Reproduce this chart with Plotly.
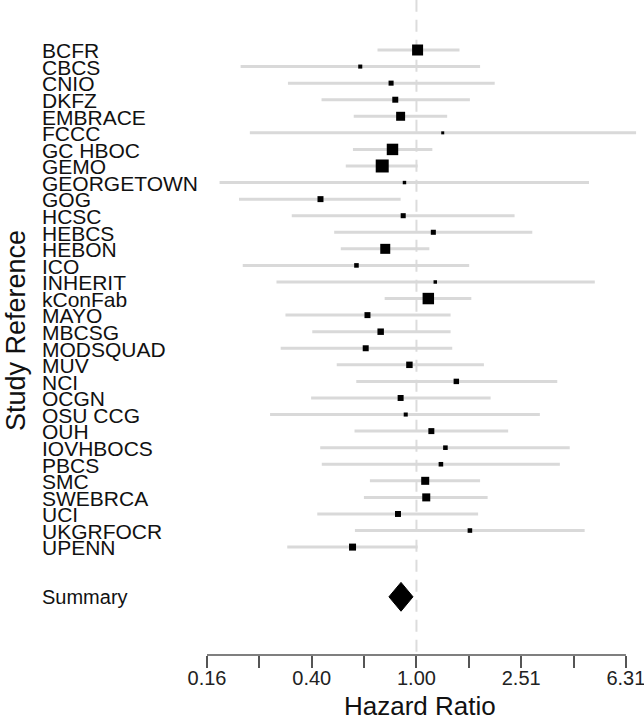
import plotly.graph_objects as go
import numpy as np

# ---- data ----
studies = ["BCFR", "CBCS", "CNIO", "DKFZ", "EMBRACE", "FCCC", "GC HBOC", "GEMO",
           "GEORGETOWN", "GOG", "HCSC", "HEBCS", "HEBON", "ICO", "INHERIT", "kConFab",
           "MAYO", "MBCSG", "MODSQUAD", "MUV", "NCI", "OCGN", "OSU CCG", "OUH",
           "IOVHBOCS", "PBCS", "SMC", "SWEBRCA", "UCI", "UKGRFOCR", "UPENN"]
hr = [1.01, 0.61, 0.80, 0.83, 0.87, 1.26, 0.81, 0.74, 0.90, 0.43, 0.89, 1.16, 0.76,
      0.59, 1.18, 1.11, 0.65, 0.73, 0.64, 0.94, 1.42, 0.87, 0.91, 1.14, 1.29, 1.24,
      1.08, 1.09, 0.85, 1.60, 0.57]
ci_low = [0.71, 0.213, 0.323, 0.434, 0.576, 0.231, 0.572, 0.537, 0.177, 0.21, 0.334,
          0.485, 0.514, 0.217, 0.292, 0.756, 0.316, 0.40, 0.303, 0.496, 0.589, 0.396,
          0.276, 0.58, 0.429, 0.435, 0.664, 0.63, 0.418, 0.582, 0.321]
ci_high = [1.46, 1.75, 1.99, 1.60, 1.31, 6.90, 1.15, 1.01, 4.56, 0.87, 2.37, 2.77, 1.12,
           1.59, 4.80, 1.62, 1.35, 1.35, 1.37, 1.81, 3.45, 1.92, 2.96, 2.24, 3.85, 3.53,
           1.75, 1.87, 1.72, 4.39, 1.01]
weight_pct = [8.1, 1.1, 1.7, 2.4, 5.4, 0.6, 8.8, 11.3, 0.8, 2.4, 1.7, 1.7, 6.7, 1.4, 0.8,
              8.8, 2.4, 2.8, 2.4, 2.8, 2.0, 2.4, 1.1, 2.4, 1.4, 1.4, 4.3, 4.3, 2.4, 1.4, 3.3]
summary_label = "Summary"
summary_hr = 0.873
summary_low = 0.785
summary_high = 0.97
tick_values = [0.158489, 0.251189, 0.398107, 0.630957, 1.0, 1.584893, 2.511886, 3.981072, 6.309573]
tick_labels = ["0.16", "", "0.40", "", "1.00", "", "2.51", "", "6.31"]

# ---- layout helpers ----
FONT = "Liberation Sans, Arial, sans-serif"
rows = list(range(1, len(studies) + 1))
summary_row = len(studies) + 3
diamond_half_h = 0.87
size_scale = 3.865
W, H = 644, 720
ML, MR, MT, MB = 207, 5, 0, 65
plot_w = W - ML - MR

fig = go.Figure()

# CI lines
xs, ys = [], []
for r, lo, hi in zip(rows, ci_low, ci_high):
    xs += [lo, hi, None]
    ys += [r, r, None]
fig.add_trace(go.Scatter(x=xs, y=ys, mode="lines",
                         line=dict(color="#d9d9d9", width=3),
                         hoverinfo="skip", showlegend=False))

# point estimates (boxes sized by weight)
fig.add_trace(go.Scatter(x=hr, y=rows, mode="markers",
                         marker=dict(symbol="square", color="#000000", opacity=1,
                                     size=[size_scale * np.sqrt(w) for w in weight_pct],
                                     line=dict(width=0)),
                         text=studies, showlegend=False))

# summary diamond
fig.add_trace(go.Scatter(
    x=[summary_low, summary_hr, summary_high, summary_hr, summary_low],
    y=[summary_row, summary_row - diamond_half_h, summary_row, summary_row + diamond_half_h, summary_row],
    mode="lines", fill="toself", fillcolor="black",
    line=dict(color="black", width=1), showlegend=False, hoverinfo="skip"))

annotations = []
label_x = (40 - ML) / plot_w
for r, s in zip(rows, studies):
    annotations.append(dict(x=label_x, xref="paper", y=r + 0.05, yref="y", text=s,
                            xanchor="left", yanchor="middle", showarrow=False,
                            font=dict(family=FONT, size=21, color="#111")))
annotations.append(dict(x=label_x, xref="paper", y=summary_row, yref="y", text=summary_label,
                        xanchor="left", yanchor="middle", showarrow=False,
                        font=dict(family=FONT, size=20, color="#111")))
annotations.append(dict(x=(16 - ML) / plot_w, xref="paper", y=1 - 331 / (H - MB), yref="paper",
                        text="Study Reference", textangle=-90, xanchor="center", yanchor="middle",
                        showarrow=False, font=dict(family=FONT, size=27, color="#111")))
annotations.append(dict(x=(419.5 - ML) / plot_w, xref="paper", y=(655 - 706) / (H - MB), yref="paper",
                        text="Hazard Ratio", xanchor="center", yanchor="middle",
                        showarrow=False, font=dict(family=FONT, size=26, color="#111")))

shapes = [
    # reference line at HR = 1
    dict(type="line", xref="x", yref="paper", x0=1.0, x1=1.0, y0=0.005, y1=1,
         line=dict(color="#dcdcdc", width=2, dash="12px,8px"), layer="below"),
    # axis line spanning the tick range
    dict(type="line", xref="x", yref="paper", x0=tick_values[0], x1=tick_values[-1], y0=0, y1=0,
         line=dict(color="#555555", width=1.5)),
]

top_row = 1 - 50 / 16.57
bottom_row = 1 + (655 - 50) / 16.57

fig.update_layout(
    width=W, height=H,
    margin=dict(l=ML, r=MR, t=MT, b=MB),
    plot_bgcolor="white", paper_bgcolor="white",
    font=dict(family=FONT, color="#111"),
    annotations=annotations, shapes=shapes,
    xaxis=dict(type="log", range=[-0.8, 0.85], tickvals=tick_values, ticktext=tick_labels,
               ticks="outside", ticklen=12, tickwidth=1.5, tickcolor="#555555",
               tickfont=dict(family=FONT, size=20, color="#222"),
               ticklabeloverflow="allow", ticklabelstandoff=-7,
               showgrid=False, zeroline=False, showline=False),
    yaxis=dict(range=[bottom_row, top_row], showgrid=False, zeroline=False,
               showticklabels=False, ticks="", showline=False),
)

fig.write_html("out.html", config={"displayModeBar": False},
               post_script="document.body.style.margin='0';document.body.style.overflow='hidden';")
